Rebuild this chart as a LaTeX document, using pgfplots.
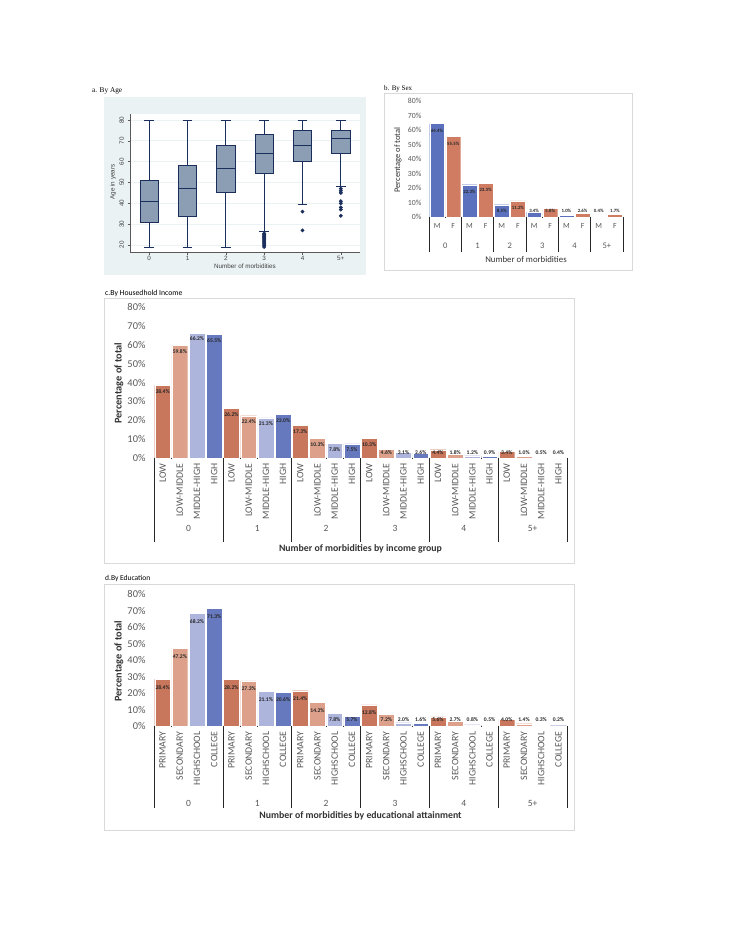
\documentclass[border=0pt]{standalone}
\usepackage{pgfplots}
\pgfplotsset{compat=1.18}
\usepgfplotslibrary{statistics}
\usepackage{fontspec}
\setmainfont{Carlito}
\newfontfamily\stata{Liberation Sans}
\newfontfamily\ttlserif{Liberation Serif}

\definecolor{cLow}{HTML}{C9775C}
\definecolor{cLowMid}{HTML}{DDA18B}
\definecolor{cMidHigh}{HTML}{ADB5DD}
\definecolor{cHigh}{HTML}{6679BE}
\definecolor{cM}{HTML}{5B71BD}
\definecolor{cF}{HTML}{CF7C63}
\definecolor{stbg}{HTML}{EAF2F3}
\definecolor{stnavy}{HTML}{1A2F5C}
\definecolor{stbox}{HTML}{8C9EB4}
\definecolor{tickgray}{HTML}{595959}
\definecolor{framegray}{HTML}{D9D9D9}

\pgfplotsset{
  xb/.style={ybar, bar shift=0pt, bar width=0.92, draw=white, line width=0.3pt, fill=#1},
  dl/.style n args={4}{
    nodes near coords={\pgfmathprintnumber[fixed,fixed zerofill,precision=1,assume math mode=true]{\pgfplotspointmeta}\%},
    nodes near coords align=center,
    visualization depends on={rawy \as \rawy},
    every node near coord/.append style={font=\fontsize{#1}{#1}\selectfont\bfseries, text=black!85, inner sep=0pt, anchor=center, yshift={max(-#2,#3-#4*\rawy)}}},
  stb/.style={draw=stnavy, fill=stbox, line width=0.8pt, mark=*, mark size=1.5pt, mark options={fill=stnavy, draw=stnavy, solid}},
  exc/.style={scale only axis, anchor=south west, ymin=0, ymax=80,
    axis x line*=bottom, axis y line*=left,
    x axis line style={black!85, line width=0.6pt},
    y axis line style={draw=none},
    major tick length=0pt, clip=false,
    ytick={0,10,...,80}, yticklabels={0\%,10\%,20\%,30\%,40\%,50\%,60\%,70\%,80\%},
    yticklabel style={text=tickgray}, xticklabel style={text=tickgray}},
}

\begin{document}
\begin{tikzpicture}
\path[use as bounding box, fill=white] (0,0) rectangle (728pt,-942pt);

%% ---------------- a. By Age ----------------
\fill[stbg] (104pt,-97pt) rectangle (366pt,-275pt);
\node[anchor=west, inner sep=0pt, font=\ttlserif\fontsize{7.3}{8}\selectfont] at (92pt,-91pt) {a. By Age};
\begin{axis}[
  at={(130pt,-252pt)}, anchor=south west, scale only axis,
  width=230pt, height=138pt,
  xmin=-0.5, xmax=5.5, ymin=16.6, ymax=82.9,
  axis background/.style={fill=white},
  axis x line*=bottom, axis y line*=left,
  axis line style={black!65, line width=0.5pt},
  xtick={0,1,2,3,4,5}, xticklabels={0,1,2,3,4,5+},
  ytick={20,30,40,50,60,70,80}, yticklabels={20,30,40,50,60,70,80},
  tick align=outside, major tick length=2.5pt,
  tick style={black!65, line width=0.5pt},
  ticklabel style={font=\stata\fontsize{6.3}{7}\selectfont, text=black!75},
  yticklabel style={rotate=90, anchor=south},
  xticklabel style={inner sep=1pt},
  ymajorgrids, grid style={stbg, line width=0.8pt},
  boxplot/draw direction=y,
  boxplot/box extend=0.48, boxplot/whisker extend=0.26,
  clip=false,
]
\addplot[stb, boxplot prepared={draw position=0, lower whisker=19, lower quartile=31, median=41, upper quartile=51, upper whisker=80}] coordinates {};
\addplot[stb, boxplot prepared={draw position=1, lower whisker=19, lower quartile=33.5, median=47, upper quartile=58, upper whisker=80}] coordinates {};
\addplot[stb, boxplot prepared={draw position=2, lower whisker=19, lower quartile=45, median=57, upper quartile=68, upper whisker=80}] coordinates {};
\addplot[stb, boxplot prepared={draw position=3, lower whisker=26.5, lower quartile=54.3, median=64, upper quartile=73, upper whisker=80}]
  table[row sep=\\, y index=0] {age\\ 19\\ 19.5\\ 20\\ 20.5\\ 21\\ 21.5\\ 22\\ 22.5\\ 23\\ 23.5\\ 24\\ 24.5\\ 25\\ 25.5\\};
\addplot[stb, boxplot prepared={draw position=4, lower whisker=39.5, lower quartile=60, median=68, upper quartile=75, upper whisker=80}]
  table[row sep=\\, y index=0] {age\\ 36\\ 27\\};
\addplot[stb, boxplot prepared={draw position=5, lower whisker=48, lower quartile=64, median=71, upper quartile=75, upper whisker=80}]
  table[row sep=\\, y index=0] {age\\ 47\\ 46\\ 45\\ 41\\ 40\\ 38\\ 37\\ 34\\};
\end{axis}
\node[font=\stata\fontsize{6.3}{7}\selectfont, text=black!75] at (245pt,-266.5pt) {Number of morbidities};
\node[rotate=90, font=\stata\fontsize{6.3}{7}\selectfont, text=black!75] at (113pt,-182pt) {Age in years};

%% ---------------- b. By Sex ----------------
\draw[framegray, line width=0.8pt] (384pt,-93pt) rectangle (632pt,-270pt);
\node[anchor=west, inner sep=0pt, font=\ttlserif\fontsize{7}{8}\selectfont, fill=white, inner xsep=1pt] at (383pt,-89pt) {b. By Sex};
\begin{axis}[exc,
  at={(429pt,-217pt)}, width=194pt, height=116pt,
  xmin=-0.5, xmax=11.5,
  xtick={0,...,11}, xticklabels={M,F,M,F,M,F,M,F,M,F,M,F},
  ticklabel style={font=\fontsize{7.8}{9}\selectfont},
  yticklabel style={xshift=-4pt},
  xticklabel style={yshift=-3pt},
]
\addplot[xb=cM, dl={4.8}{7}{6}{1.45}] coordinates {(0,64.4) (2,22.3) (4,8.5) (6,3.4) (8,1.0) (10,0.4)};
\addplot[xb=cF, dl={4.8}{7}{6}{1.45}] coordinates {(1,55.5) (3,23.3) (5,11.2) (7,5.8) (9,2.6) (11,1.7)};
\pgfplotsinvokeforeach{-0.5,1.5,3.5,5.5,7.5,9.5,11.5}{\draw[black!85, line width=0.6pt] (axis cs:#1,0) -- ++(0pt,-35pt);}
\node[font=\fontsize{8.5}{9}\selectfont, text=tickgray] at ([yshift=-29pt]axis cs:0.5,0) {0};
\node[font=\fontsize{8.5}{9}\selectfont, text=tickgray] at ([yshift=-29pt]axis cs:2.5,0) {1};
\node[font=\fontsize{8.5}{9}\selectfont, text=tickgray] at ([yshift=-29pt]axis cs:4.5,0) {2};
\node[font=\fontsize{8.5}{9}\selectfont, text=tickgray] at ([yshift=-29pt]axis cs:6.5,0) {3};
\node[font=\fontsize{8.5}{9}\selectfont, text=tickgray] at ([yshift=-29pt]axis cs:8.5,0) {4};
\node[font=\fontsize{8.5}{9}\selectfont, text=tickgray] at ([yshift=-29pt]axis cs:10.5,0) {5+};
\end{axis}
\node[font=\fontsize{8.8}{10}\selectfont, text=black!80] at (526pt,-259pt) {Number of morbidities};
\node[rotate=90, font=\fontsize{8.5}{10}\selectfont, text=black!80] at (398pt,-160pt) {Percentage of total};

%% ---------------- c. By Household Income ----------------
\draw[framegray, line width=0.8pt] (104pt,-298pt) rectangle (574pt,-563pt);
\node[anchor=west, inner sep=0pt, font=\fontsize{7.7}{9}\selectfont] at (105pt,-293pt) {c.By Housedhold Income};
\begin{axis}[exc,
  at={(154pt,-458pt)}, width=413pt, height=151pt,
  xmin=-0.5, xmax=23.5,
  xtick={0,...,23},
  xticklabels={LOW,LOW-MIDDLE,MIDDLE-HIGH,HIGH,LOW,LOW-MIDDLE,MIDDLE-HIGH,HIGH,LOW,LOW-MIDDLE,MIDDLE-HIGH,HIGH,LOW,LOW-MIDDLE,MIDDLE-HIGH,HIGH,LOW,LOW-MIDDLE,MIDDLE-HIGH,HIGH,LOW,LOW-MIDDLE,MIDDLE-HIGH,HIGH},
  yticklabel style={font=\fontsize{10.4}{12}\selectfont, xshift=-5pt},
  xticklabel style={font=\fontsize{9.8}{11}\selectfont, rotate=90, anchor=east},
  xticklabel shift=2pt,
]
\addplot[xb=cLow, dl={5.6}{6}{5}{1.8875}] coordinates {(0,38.4) (4,26.2) (8,17.3) (12,10.3) (16,4.4) (20,3.4)};
\addplot[xb=cLowMid, dl={5.6}{6}{5}{1.8875}] coordinates {(1,59.8) (5,22.4) (9,10.3) (13,4.6) (17,1.8) (21,1.0)};
\addplot[xb=cMidHigh, dl={5.6}{6}{5}{1.8875}] coordinates {(2,66.2) (6,21.3) (10,7.8) (14,3.1) (18,1.2) (22,0.5)};
\addplot[xb=cHigh, dl={5.6}{6}{5}{1.8875}] coordinates {(3,65.5) (7,23.0) (11,7.5) (15,2.6) (19,0.9) (23,0.4)};
\pgfplotsinvokeforeach{-0.5,3.5,7.5,11.5,15.5,19.5,23.5}{\draw[black!85, line width=0.6pt] (axis cs:#1,0) -- ++(0pt,-84pt);}
\node[font=\fontsize{9.5}{10}\selectfont, text=tickgray] at ([yshift=-70pt]axis cs:1.5,0) {0};
\node[font=\fontsize{9.5}{10}\selectfont, text=tickgray] at ([yshift=-70pt]axis cs:5.5,0) {1};
\node[font=\fontsize{9.5}{10}\selectfont, text=tickgray] at ([yshift=-70pt]axis cs:9.5,0) {2};
\node[font=\fontsize{9.5}{10}\selectfont, text=tickgray] at ([yshift=-70pt]axis cs:13.5,0) {3};
\node[font=\fontsize{9.5}{10}\selectfont, text=tickgray] at ([yshift=-70pt]axis cs:17.5,0) {4};
\node[font=\fontsize{9.5}{10}\selectfont, text=tickgray] at ([yshift=-70pt]axis cs:21.5,0) {5+};
\node[font=\bfseries\fontsize{9.8}{11}\selectfont, text=black!80] at ([yshift=-91pt]axis cs:11.5,0) {Number of morbidities by income group};
\end{axis}
\node[rotate=90, font=\bfseries\fontsize{10.3}{12}\selectfont, text=black!80] at (119pt,-383pt) {Percentage of total};

%% ---------------- d. By Education ----------------
\draw[framegray, line width=0.8pt] (104pt,-584pt) rectangle (574pt,-830pt);
\node[anchor=west, inner sep=0pt, font=\fontsize{7.5}{9}\selectfont] at (105pt,-578pt) {d.By Education};
\begin{axis}[exc,
  at={(154pt,-726pt)}, width=413pt, height=132pt,
  xmin=-0.5, xmax=23.5,
  xtick={0,...,23},
  xticklabels={PRIMARY,SECONDARY,HIGHSCHOOL,COLLEGE,PRIMARY,SECONDARY,HIGHSCHOOL,COLLEGE,PRIMARY,SECONDARY,HIGHSCHOOL,COLLEGE,PRIMARY,SECONDARY,HIGHSCHOOL,COLLEGE,PRIMARY,SECONDARY,HIGHSCHOOL,COLLEGE,PRIMARY,SECONDARY,HIGHSCHOOL,COLLEGE},
  yticklabel style={font=\fontsize{10.4}{12}\selectfont, xshift=-5pt},
  xticklabel style={font=\fontsize{9.8}{11}\selectfont, rotate=90, anchor=east},
  xticklabel shift=2pt,
]
\addplot[xb=cLow, dl={5.6}{8}{6}{1.65}] coordinates {(0,28.4) (4,28.2) (8,21.4) (12,12.8) (16,5.6) (20,4.0)};
\addplot[xb=cLowMid, dl={5.6}{8}{6}{1.65}] coordinates {(1,47.2) (5,27.3) (9,14.2) (13,7.2) (17,2.7) (21,1.4)};
\addplot[xb=cMidHigh, dl={5.6}{8}{6}{1.65}] coordinates {(2,68.2) (6,21.1) (10,7.8) (14,2.0) (18,0.8) (22,0.3)};
\addplot[xb=cHigh, dl={5.6}{8}{6}{1.65}] coordinates {(3,71.3) (7,20.6) (11,5.7) (15,1.6) (19,0.5) (23,0.2)};
\pgfplotsinvokeforeach{-0.5,3.5,7.5,11.5,15.5,19.5,23.5}{\draw[black!85, line width=0.6pt] (axis cs:#1,0) -- ++(0pt,-82pt);}
\node[font=\fontsize{9.5}{10}\selectfont, text=tickgray] at ([yshift=-77pt]axis cs:1.5,0) {0};
\node[font=\fontsize{9.5}{10}\selectfont, text=tickgray] at ([yshift=-77pt]axis cs:5.5,0) {1};
\node[font=\fontsize{9.5}{10}\selectfont, text=tickgray] at ([yshift=-77pt]axis cs:9.5,0) {2};
\node[font=\fontsize{9.5}{10}\selectfont, text=tickgray] at ([yshift=-77pt]axis cs:13.5,0) {3};
\node[font=\fontsize{9.5}{10}\selectfont, text=tickgray] at ([yshift=-77pt]axis cs:17.5,0) {4};
\node[font=\fontsize{9.5}{10}\selectfont, text=tickgray] at ([yshift=-77pt]axis cs:21.5,0) {5+};
\node[font=\bfseries\fontsize{9.8}{11}\selectfont, text=black!80] at ([yshift=-90pt]axis cs:11.5,0) {Number of morbidities by educational attainment};
\end{axis}
\node[rotate=90, font=\bfseries\fontsize{10.3}{12}\selectfont, text=black!80] at (119pt,-661pt) {Percentage of total};
\end{tikzpicture}
\end{document}
